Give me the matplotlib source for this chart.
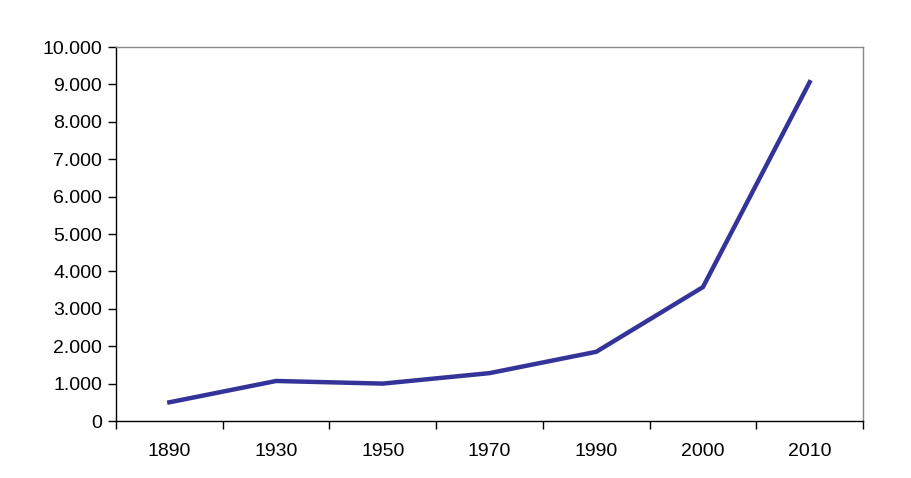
import matplotlib.pyplot as plt
from matplotlib.ticker import FuncFormatter, FixedLocator

# data
years = ['1890', '1930', '1950', '1970', '1990', '2000', '2010']
values = [500, 1070, 1000, 1280, 1850, 3580, 9060]

plt.rcParams['font.family'] = ['Liberation Sans', 'DejaVu Sans']

fig = plt.figure(figsize=(9.11, 4.78), dpi=100)
ax = fig.add_axes([116 / 911, 1 - 421 / 478, (863 - 116) / 911, (421 - 47) / 478])

x = list(range(len(years)))
ax.plot(x, values, color='#333399', linewidth=3.2, solid_joinstyle='miter')

ax.set_xlim(-0.5, len(years) - 0.5)
ax.set_ylim(0, 10000)

# ticks between categories, labels at the centres
ax.xaxis.set_major_locator(FixedLocator([i - 0.5 for i in range(len(years) + 1)]))
ax.xaxis.set_minor_locator(FixedLocator(x))
ax.set_xticklabels([''] * (len(years) + 1))
ax.set_xticklabels(years, minor=True)
ax.tick_params(axis='x', which='major', length=6, width=1, direction='out')
ax.tick_params(axis='x', which='minor', length=0, pad=16, labelsize=14)

ax.set_yticks(range(0, 10001, 1000))
ax.yaxis.set_major_formatter(FuncFormatter(lambda v, p: f'{int(v):,}'.replace(',', '.')))
ax.tick_params(axis='y', length=6, width=1, direction='out', labelsize=14, pad=4)

for side in ['top', 'right']:
    ax.spines[side].set_color('#888888')
    ax.spines[side].set_linewidth(1)
for side in ['left', 'bottom']:
    ax.spines[side].set_color('black')
    ax.spines[side].set_linewidth(1)

fig.savefig('out.png', dpi=100)
